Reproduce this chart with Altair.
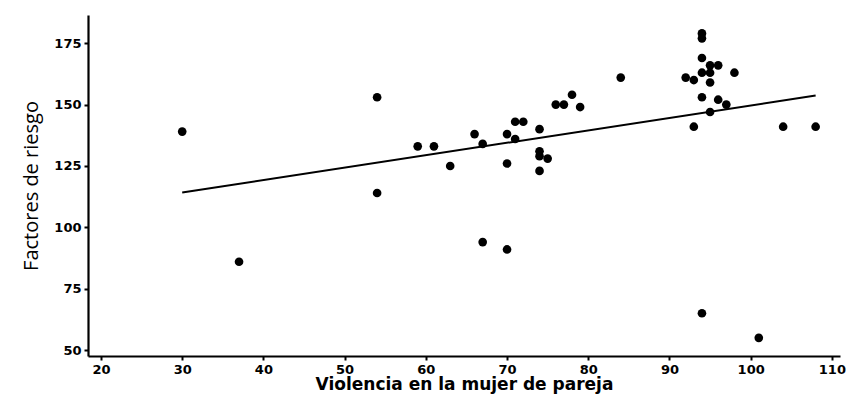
import altair as alt
import pandas as pd

violencia = [30, 37, 54, 54, 59, 61, 63, 66, 67, 67,
             70, 70, 70, 71, 72, 71, 74, 74, 74, 74,
             75, 76, 77, 78, 79, 84, 92, 93, 94, 94,
             94, 95, 96, 94, 95, 95, 98, 94, 96, 97,
             95, 93, 94, 101, 104, 108]
riesgo = [139, 86, 153, 114, 133, 133, 125, 138, 134, 94,
          138, 126, 91, 143, 143, 136, 140, 131, 129, 123,
          128, 150, 150, 154, 149, 161, 161, 160, 179, 177,
          169, 166, 166, 163, 163, 159, 163, 153, 152, 150,
          147, 141, 65, 55, 141, 141]

df = pd.DataFrame({"x": violencia, "y": riesgo})

x_enc = alt.X("x:Q", title="Violencia en la mujer de pareja",
              scale=alt.Scale(domain=[18.4, 111.0], nice=False, zero=False),
              axis=alt.Axis(values=[20, 30, 40, 50, 60, 70, 80, 90, 100, 110]))
y_enc = alt.Y("y:Q", title="Factores de riesgo",
              scale=alt.Scale(domain=[47.6, 186.5], nice=False, zero=False),
              axis=alt.Axis(values=[50, 75, 100, 125, 150, 175]))

points = alt.Chart(df).mark_circle(size=75, color="black", opacity=1).encode(x=x_enc, y=y_enc)
line = alt.Chart(df).transform_regression("x", "y").mark_line(color="black", strokeWidth=2).encode(
    x="x:Q", y="y:Q")

chart = alt.layer(points, line).properties(
    width=752, height=341,
    padding={"left": 80, "top": 7, "right": 6, "bottom": 40},
    autosize=alt.AutoSizeParams(type="none"),
).configure_view(stroke=None).configure_axis(
    grid=False,
    domainColor="black", domainWidth=2.2,
    tickColor="black", tickWidth=2, tickSize=4,
    labelColor="black", labelFont="DejaVu Sans", labelFontWeight="bold", labelFontSize=13,
    labelPadding=3,
    titleColor="black",
).configure_axisX(
    titleFont="DejaVu Sans", titleFontSize=17, titleFontWeight="bold", titlePadding=0,
).configure_axisY(
    titleFont="Open Sans", titleFontSize=20, titleFontWeight="normal", titlePadding=12,
)

chart.save("out.html", embed_options={"renderer": "svg", "actions": False})
